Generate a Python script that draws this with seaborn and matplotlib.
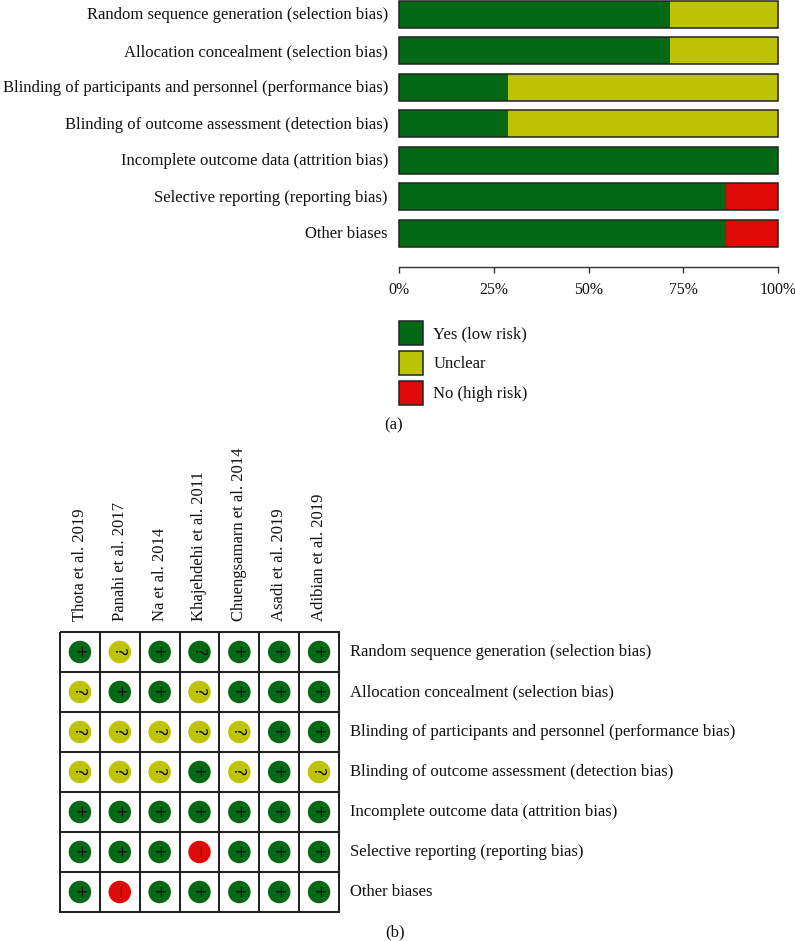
import numpy as np
import pandas as pd
import matplotlib
matplotlib.use('Agg')
import matplotlib.pyplot as plt
from matplotlib.patches import Patch
from matplotlib.transforms import ScaledTranslation
import seaborn as sns

# Domains of bias
domains = ['Random sequence generation (selection bias)',
           'Allocation concealment (selection bias)',
           'Blinding of participants and personnel (performance bias)',
           'Blinding of outcome assessment (detection bias)',
           'Incomplete outcome data (attrition bias)',
           'Selective reporting (reporting bias)',
           'Other biases']

# Percentages in panel (a)
yes_pct = [71.6, 71.6, 28.8, 28.8, 100, 86.2, 86.2]
unclear_pct = [28.4, 28.4, 71.2, 71.2, 0, 0, 0]
no_pct = [0, 0, 0, 0, 0, 13.8, 13.8]

tick_vals = [0, 25, 50, 75, 100]
tick_labels = ['0%', '25%', '50%', '75%', '100%']
legend_labels = ['Yes (low risk)', 'Unclear', 'No (high risk)']

# Panel (b)
studies = ['Thota et al. 2019', 'Panahi et al. 2017', 'Na et al. 2014',
           'Khajehdehi et al. 2011', 'Chuengsamarn et al. 2014',
           'Asadi et al. 2019', 'Adibian et al. 2019']

# circle colour per cell, y = low risk, u = unclear, n = high risk
colours = [list('yuyyyyy'),
           list('uyyuyyy'),
           list('uuuuuyy'),
           list('uuuyuyu'),
           list('yyyyyyy'),
           list('yyynyyy'),
           list('ynyyyyy')]
# symbol per cell (differs from the colour in one cell of the original)
symbols = [list('+?+?+++'),
           list('?++?+++'),
           list('?????++'),
           list('???+?+?'),
           list('+++++++'),
           list('+++\u2212+++'),
           list('+\u2212+++++')]

GREEN = '#036914'
YELLOW = '#BEC303'
RED = '#DF0A06'
EDGE = '#222222'
W, H = 795, 941

sns.set_theme(style='white')
plt.rcParams['font.family'] = ['Liberation Serif', 'DejaVu Serif']
FS = 12

fig = plt.figure(figsize=(W / 100, H / 100), dpi=100)
fig.patch.set_facecolor('white')


def place(x0, y0, x1, y1):
    return fig.add_axes([x0 / W, 1 - y1 / H, (x1 - x0) / W, (y1 - y0) / H])


def nudge_up(labels, px):
    # raise tick labels by a pixel or two
    for lab in labels:
        lab.set_transform(lab.get_transform() + ScaledTranslation(0, px / 100, fig.dpi_scale_trans))


# (a) stacked bars, painted from the longest total down
ax = place(399, 0, 778, 267)
df = pd.DataFrame({'domain': domains, 'yes': yes_pct, 'unclear': unclear_pct, 'no': no_pct})
df['yes_unclear'] = df['yes'] + df['unclear']
df['total'] = df['yes_unclear'] + df['no']

sns.barplot(data=df, y='domain', x='total', color=RED, saturation=1, width=0.74, ax=ax, linewidth=0)
sns.barplot(data=df, y='domain', x='yes_unclear', color=YELLOW, saturation=1, width=0.74, ax=ax, linewidth=0)
sns.barplot(data=df, y='domain', x='yes', color=GREEN, saturation=1, width=0.74, ax=ax, linewidth=0)
sns.barplot(data=df, y='domain', x='total', color=EDGE, fill=False, saturation=1, width=0.74, ax=ax, linewidth=1.1)

ax.set_xlim(0, 100)
ax.set_ylim(6.918, -0.397)
ax.set_xlabel('')
ax.set_ylabel('')
ax.set_xticks(tick_vals, tick_labels, fontsize=11.4)
ax.tick_params(axis='x', bottom=True, length=4.5, width=1, color='#333333', pad=6, labelcolor='#111111')
ax.tick_params(axis='y', left=False, length=0, pad=8, labelsize=FS, labelcolor='#111111')
nudge_up(ax.get_yticklabels(), 1)
sns.despine(ax=ax, left=True)
ax.spines['bottom'].set_color('#333333')
ax.spines['bottom'].set_linewidth(1)
for bar in ax.patches:
    bar.set_clip_on(False)

handles = [Patch(facecolor=c, edgecolor=EDGE, linewidth=1.1) for c in [GREEN, YELLOW, RED]]
ax.legend(handles, legend_labels, loc='upper left', bbox_to_anchor=(399 / W, 1 - 321 / H),
          bbox_transform=fig.transFigure, frameon=False, fontsize=FS, borderpad=0, borderaxespad=0,
          handlelength=1.44, handleheight=1.84, labelspacing=0.36, handletextpad=0.62,
          labelcolor='#111111')

fig.text(394 / W, 1 - 425 / H, '(a)', ha='center', va='center', fontsize=FS, color='#111111')

# (b) grid of cells with the coloured circles on top
ax2 = place(60, 632, 339, 912)
sns.heatmap(np.zeros((len(domains), len(studies))), ax=ax2, cmap=['white'], cbar=False,
            linewidths=1.1, linecolor=EDGE, square=False,
            xticklabels=studies, yticklabels=domains)
ax2.collections[0].set_clip_on(False)

rows = []
for i, d in enumerate(domains):
    for j, s in enumerate(studies):
        rows.append({'x': j + 0.5, 'y': i + 0.5, 'colour': colours[i][j], 'symbol': symbols[i][j]})
cells = pd.DataFrame(rows)
sns.scatterplot(data=cells, x='x', y='y', hue='colour', palette={'y': GREEN, 'u': YELLOW, 'n': RED},
                s=262, linewidth=0, legend=False, ax=ax2, zorder=3)
for _, c in cells.iterrows():
    ax2.text(c['x'], c['y'], c['symbol'], rotation=-90, rotation_mode='anchor', ha='center',
             va='center_baseline', fontsize=11.5, family=['DejaVu Sans'], color='#111111', zorder=4)

ax2.set_xlabel('')
ax2.set_ylabel('')
ax2.xaxis.tick_top()
ax2.yaxis.tick_right()
ax2.tick_params(axis='x', top=False, length=0, pad=8, labelsize=FS, labelrotation=90, labelcolor='#111111')
ax2.tick_params(axis='y', right=False, length=0, pad=8, labelsize=FS, labelrotation=0, labelcolor='#111111')
nudge_up(ax2.get_yticklabels(), 1.5)

fig.text(395 / W, 1 - 932 / H, '(b)', ha='center', va='center', fontsize=FS, color='#111111')

fig.savefig('out.png', dpi=100, facecolor='white')
